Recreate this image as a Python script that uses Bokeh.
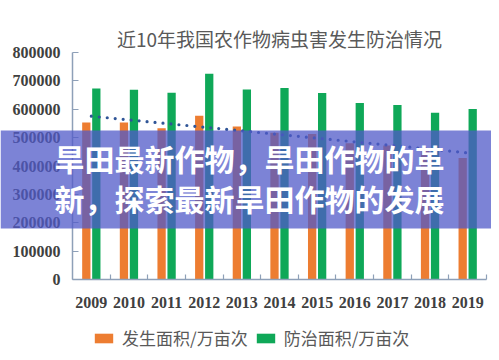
import numpy as np
from bokeh.plotting import figure
from bokeh.models import (Range1d, FixedTicker, BasicTickFormatter,
                          Legend, LegendItem, BoxAnnotation, Label, ColumnDataSource)
from bokeh.embed import file_html
from bokeh.resources import INLINE

# ---- data ----
years = ["2009", "2010", "2011", "2012", "2013", "2014", "2015", "2016", "2017", "2018", "2019"]
occurrence = [553000, 553000, 533000, 577000, 539000, 517000, 513000, 480000, 472000, 455000, 428000]
control = [673000, 669000, 658000, 725000, 670000, 675000, 657000, 622000, 615000, 588000, 601000]
y_ticks = [0, 100000, 200000, 300000, 400000, 500000, 600000, 700000, 800000]
title_text = "近10年我国农作物病虫害发生防治情况"
legend_labels = ["发生面积/万亩次", "防治面积/万亩次"]
banner_lines = ["旱田最新作物，旱田作物的革", "新，探索最新旱田作物的发展"]

# category index positions and linear trend of the occurrence series
n = len(years)
idx = list(range(n))
coef = np.polyfit(idx, occurrence, 1)
trend = list(np.polyval(coef, idx))

# ---- layout constants (pixels) ----
W, H = 491, 352
PX0, PX1 = 72, 486      # plot area left/right
PY0, PY1 = 279, 52      # y=0 and y=top pixel rows
ppu = (PX1 - PX0) / n
x_start = -0.5 - PX0 / ppu
x_end = x_start + W / ppu
y_top = y_ticks[-1]
ppv = (PY0 - PY1) / y_top
y_start = -(H - PY0) / ppv
y_end = PY0 / ppv

AXIS_C = "#8EA0B8"
LBL_C = "#404040"
OFF = 0.133
BW = 0.22

src = ColumnDataSource(dict(
    x=idx, occ=occurrence, ctl=control, trend=trend,
    xo=[i - OFF for i in idx], xg=[i + OFF for i in idx]))

p = figure(x_range=Range1d(x_start, x_end), y_range=Range1d(y_start, y_end),
           width=W, height=H, output_backend="svg", toolbar_location=None,
           min_border=0, min_border_left=0, min_border_right=0,
           min_border_top=0, min_border_bottom=0)
p.outline_line_color = None
p.xgrid.visible = False
p.ygrid.visible = False
p.background_fill_color = "white"
p.border_fill_color = "white"

r_occ = p.vbar(x="xo", top="occ", width=BW, source=src,
               fill_color="#ED7D31", line_color=None)
r_ctl = p.vbar(x="xg", top="ctl", width=BW, source=src,
               fill_color="#0FA858", line_color=None)
p.line(x="x", y="trend", source=src, line_color="#2F5597", line_width=3.2,
       line_dash="0 8", line_cap="round")

# axes (fixed inside the frame)
xa = p.xaxis[0]
ya = p.yaxis[0]
xa.fixed_location = 0
ya.fixed_location = -0.5
xa.bounds = (-0.5, n - 0.5)
ya.bounds = (0, y_top)
xa.ticker = FixedTicker(ticks=idx, minor_ticks=[i + 0.5 for i in idx])
xa.major_label_overrides = {i: y for i, y in zip(idx, years)}
xa.major_tick_line_color = None
xa.minor_tick_in = 5
xa.minor_tick_out = 0
xa.minor_tick_line_color = AXIS_C
xa.minor_tick_line_width = 1.2
xa.major_label_standoff = 11
ya.ticker = FixedTicker(ticks=y_ticks)
ya.formatter = BasicTickFormatter(use_scientific=False)
ya.major_tick_in = 6
ya.major_tick_out = 0
ya.minor_tick_line_color = None
ya.major_tick_line_color = AXIS_C
ya.major_tick_line_width = 1.2
ya.major_label_standoff = 12
for ax in (xa, ya):
    ax.axis_line_color = AXIS_C
    ax.axis_line_width = 1.5
    ax.major_label_text_font = "Liberation Serif"
    ax.major_label_text_font_style = "bold"
    ax.major_label_text_font_size = "16px"
    ax.major_label_text_color = LBL_C

# legend
legend = Legend(items=[LegendItem(label=legend_labels[0], renderers=[r_occ]),
                       LegendItem(label=legend_labels[1], renderers=[r_ctl])],
                orientation="horizontal", location=(92, 2), padding=0, margin=0,
                spacing=6, glyph_width=23, glyph_height=12, label_height=12,
                label_standoff=7, label_text_font="Noto Sans CJK SC",
                label_text_font_size="17px", label_text_color="#595959",
                border_line_color=None, background_fill_alpha=0)
p.add_layout(legend, "center")

# title
p.add_layout(Label(x=(PX0 + PX1) / 2, y=38, x_units="canvas", y_units="canvas", text=title_text,
                   text_align="center", text_baseline="middle",
                   text_font="Noto Sans CJK SC", text_font_size="19px",
                   text_color="#595959"))

# banner overlay
p.add_layout(BoxAnnotation(left=0, right=W, top=130, bottom=228,
                           left_units="canvas", right_units="canvas",
                           top_units="canvas", bottom_units="canvas",
                           fill_color="#5059C8", fill_alpha=0.75, line_color=None,
                           level="overlay"))
for i, t in enumerate(banner_lines):
    p.add_layout(Label(x=249, y=157 + 40 * i, x_units="canvas", y_units="canvas", text=t,
                       text_align="center", text_baseline="middle",
                       text_font="Noto Sans CJK SC", text_font_style="bold",
                       text_font_size="30px", text_color="white", level="overlay"))

open("out.html", "w").write(file_html(p, INLINE))
